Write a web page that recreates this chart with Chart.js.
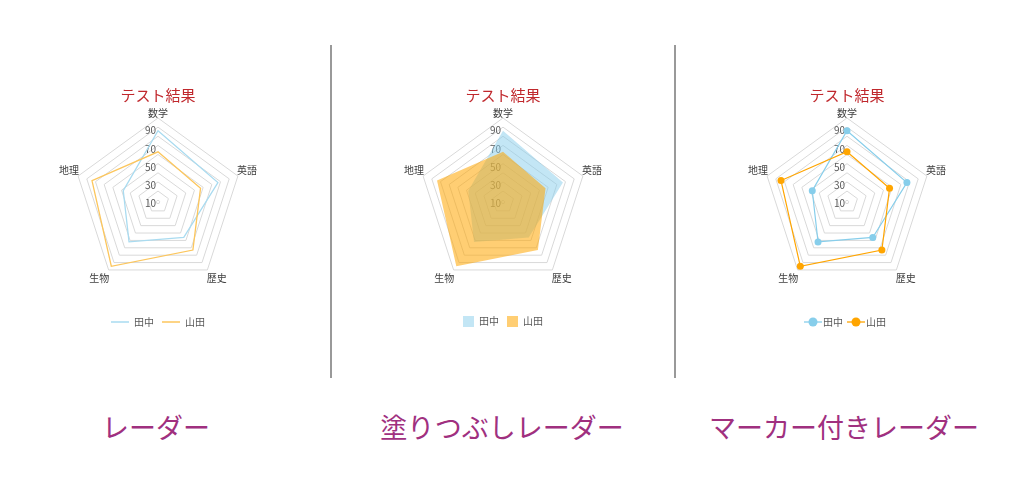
<!DOCTYPE html>
<html>
<head>
<meta charset="utf-8">
<script src="https://cdn.jsdelivr.net/npm/chart.js@4"></script>
<style>
  body { margin: 0; background: #fff; width: 1024px; height: 478px; position: relative; overflow: hidden;
         font-family: "Noto Sans CJK JP", "Noto Sans", sans-serif; }
  .box { position: absolute; top: 70px; width: 260px; height: 267px; }
  .sep { position: absolute; top: 45px; width: 2px; height: 333px; background: #999; }
  .cap { position: absolute; top: 407px; width: 340px; text-align: center; font-size: 27px; color: #a0307f; }
</style>
</head>
<body>
<div class="sep" style="left:330px"></div>
<div class="sep" style="left:674px"></div>

<div class="box" style="left:28px"><canvas id="c1" width="260" height="267"></canvas></div>
<div class="box" style="left:373px"><canvas id="c2" width="260" height="267"></canvas></div>
<div class="box" style="left:717px"><canvas id="c3" width="260" height="267"></canvas></div>

<div class="cap" style="left:-14px">レーダー</div>
<div class="cap" style="left:332px">塗りつぶしレーダー</div>
<div class="cap" style="left:674px">マーカー付きレーダー</div>

<script>
const subjects = ['数学', '英語', '歴史', '生物', '地理'];
const tanaka = [86, 77, 56, 62, 48];
const yamada = [63, 57, 73, 95, 84];
const gridValues = [8, 10, 20, 30, 40, 50, 60, 70, 80, 90, 100];
const tickLabels = [10, 30, 50, 70, 90];

const FONT = '"Noto Sans CJK JP", "Noto Sans", sans-serif';
const BLUE = '#87ceeb';
const ORANGE = '#ffa500';

// legend icon: short line with a dot in the middle
function lineDot(color) {
  const c = document.createElement('canvas');
  c.width = 18; c.height = 10;
  const g = c.getContext('2d');
  g.strokeStyle = color; g.lineWidth = 1.3;
  g.beginPath(); g.moveTo(0, 5); g.lineTo(18, 5); g.stroke();
  g.fillStyle = color;
  g.beginPath(); g.arc(9, 5, 4.5, 0, Math.PI * 2); g.fill();
  return c;
}

function scaleOpts() {
  return {
    min: 8,
    max: 100,
    afterBuildTicks: axis => { axis.ticks = gridValues.map(v => ({ value: v })); },
    angleLines: { display: false },
    grid: { color: '#d9d9d9', lineWidth: 1 },
    pointLabels: {
      // lower two labels sit a little further down
      font: ctx => ({ family: FONT, size: 10, lineHeight: (ctx.index === 2 || ctx.index === 3) ? 1.8 : 1.2 }),
      color: '#404040',
      padding: -4
    },
    ticks: {
      showLabelBackdrop: false,
      backdropPadding: -2,
      color: '#595959',
      // small line height + empty first line: labels sit just under their ring, like Excel
      font: { family: FONT, size: 10, lineHeight: '3.5px' },
      callback: v => tickLabels.includes(v) ? ['', v + '\u2003\u2002'] : ''
    }
  };
}

function baseOptions(legendLabels) {
  return {
    responsive: false,
    animation: false,
    layout: { padding: { left: 4, right: 4 } },
    scales: { r: scaleOpts() },
    plugins: {
      title: {
        display: true,
        text: 'テスト結果',
        color: '#c0282d',
        font: { family: FONT, size: 15, weight: 'normal' },
        padding: { top: 16, bottom: -1 }
      },
      legend: {
        position: 'bottom',
        title: { display: true, text: '', font: { size: 1 }, padding: { top: 0, bottom: 13 } },
        labels: Object.assign({
          color: '#595959',
          font: { family: FONT, size: 10 },
          padding: 8,
          sort: (a, b) => a.datasetIndex - b.datasetIndex
        }, legendLabels)
      },
      tooltip: { enabled: false }
    }
  };
}

// 1: plain radar
new Chart(document.getElementById('c1'), {
  type: 'radar',
  data: {
    labels: subjects,
    datasets: [
      { label: '田中', data: tanaka, order: 1, borderColor: '#a9dbf0', borderWidth: 1.3, fill: false, pointRadius: 0 },
      { label: '山田', data: yamada, order: 0, borderColor: '#fcc65c', borderWidth: 1.3, fill: false, pointRadius: 0 }
    ]
  },
  options: baseOptions({ usePointStyle: true, pointStyle: 'line', pointStyleWidth: 18, boxHeight: 8 })
});

// 2: filled radar
new Chart(document.getElementById('c2'), {
  type: 'radar',
  data: {
    labels: subjects,
    datasets: [
      { label: '田中', data: tanaka, order: 1, backgroundColor: 'rgba(135,206,235,0.5)', borderWidth: 0, fill: true, pointRadius: 0 },
      { label: '山田', data: yamada, order: 0, backgroundColor: 'rgba(255,165,0,0.55)', borderWidth: 0, fill: true, pointRadius: 0 }
    ]
  },
  options: baseOptions({ boxWidth: 11, boxHeight: 11 })
});

// 3: radar with markers
const icons = [lineDot(BLUE), lineDot(ORANGE)];
new Chart(document.getElementById('c3'), {
  type: 'radar',
  data: {
    labels: subjects,
    datasets: [
      { label: '田中', data: tanaka, order: 1, borderColor: BLUE, borderWidth: 1.2, fill: false,
        pointRadius: 3.5, pointBackgroundColor: BLUE, pointBorderWidth: 0 },
      { label: '山田', data: yamada, order: 0, borderColor: ORANGE, borderWidth: 1.2, fill: false,
        pointRadius: 3.5, pointBackgroundColor: ORANGE, pointBorderWidth: 0 }
    ]
  },
  options: baseOptions({
    usePointStyle: true,
    generateLabels: chart => Chart.defaults.plugins.legend.labels.generateLabels(chart)
      .map(l => Object.assign(l, { pointStyle: icons[l.datasetIndex] }))
  })
});
</script>
</body>
</html>
